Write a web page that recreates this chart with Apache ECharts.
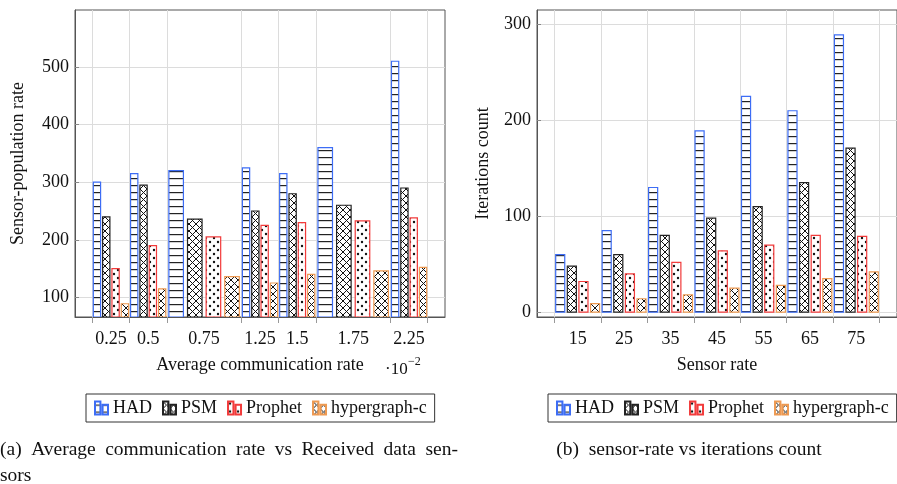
<!DOCTYPE html>
<html>
<head>
<meta charset="utf-8">
<title>Bar charts</title>
<script src="https://cdn.jsdelivr.net/npm/echarts@6/dist/echarts.min.js"></script>
<style>
  html, body { margin: 0; padding: 0; background: #fff; }
  #chart { width: 897px; height: 484px; }
</style>
</head>
<body>
<div id="chart"></div>
<script>
// datos
const seriesNames = ['HAD', 'PSM', 'Prophet', 'hypergraph-c'];

// (a) tasa media de comunicacion (x 10^-2)
const commRates = ['0.25', '0.5', '0.75', '1.25', '1.5', '1.75', '2.25'];
const hadPop     = [300, 315, 320, 325, 315, 360, 510];
const psmPop     = [240, 295, 236, 250, 280, 260, 290];
const prophetPop = [150, 190, 205, 225, 230, 233, 238];
const hyperPop   = [89, 115, 136, 125, 140, 146, 152];
const popTicks   = [100, 200, 300, 400, 500];

// (b) sensor rate vs iteraciones
const sensorRates = ['15', '25', '35', '45', '55', '65', '75'];
const hadIter     = [60, 85, 130, 189, 225, 210, 289];
const psmIter     = [48, 60, 80, 98, 110, 135, 171];
const prophetIter = [32, 40, 52, 64, 70, 80, 79];
const hyperIter   = [9, 14, 18, 25, 28, 35, 42];
const iterTicks   = [0, 100, 200, 300];

// ancho de cada grupo en la escala x (los grupos 0.75 y 1.75 ocupan doble)
const spansA = [1, 1, 2, 1, 1, 2, 1];
const spansB = [1, 1, 1, 1, 1, 1, 1];

const FONT = '"Liberation Serif", "Times New Roman", serif';
const BAR_RATIO = 0.78;

// Patrones de relleno estilo pgfplots
const crearPatron = (tipo) => {
    const c = document.createElement('canvas');
    const ctx = c.getContext('2d');
    if (tipo === 'hlines') {
        c.width = 4; c.height = 7;
        ctx.fillStyle = '#fff'; ctx.fillRect(0, 0, 4, 7);
        ctx.fillStyle = '#222'; ctx.fillRect(0, 3, 4, 1.2);
    } else if (tipo === 'cross') {
        c.width = 7; c.height = 7;
        ctx.fillStyle = '#fff'; ctx.fillRect(0, 0, 7, 7);
        ctx.strokeStyle = '#111'; ctx.lineWidth = 1;
        ctx.beginPath();
        ctx.moveTo(0, 0); ctx.lineTo(7, 7);
        ctx.moveTo(7, 0); ctx.lineTo(0, 7);
        ctx.stroke();
    } else {
        c.width = 8; c.height = 8;
        ctx.fillStyle = '#fff'; ctx.fillRect(0, 0, 8, 8);
        ctx.fillStyle = '#111';
        ctx.beginPath(); ctx.arc(2, 2, 1.2, 0, Math.PI * 2); ctx.fill();
        ctx.beginPath(); ctx.arc(6, 6, 1.2, 0, Math.PI * 2); ctx.fill();
    }
    return { image: c, repeat: 'repeat' };
};

const estilos = [
    { fill: crearPatron('hlines'), stroke: '#3d6df5' },
    { fill: crearPatron('cross'), stroke: '#222' },
    { fill: crearPatron('dots'), stroke: '#f23b3b' },
    { fill: crearPatron('cross'), stroke: '#ee9a52' }
];

const inicios = (spans) => spans.reduce((acc, s, i) => { acc.push(i ? acc[i - 1] + spans[i - 1] : 0); return acc; }, []);
const centros = (spans) => inicios(spans).map((s, i) => s + spans[i] / 2);

// Serie custom: cada barra ocupa un cuarto de su grupo
const serieBarras = (nombre, valores, k, spans, base, gridIdx) => {
    const starts = inicios(spans);
    const est = estilos[k];
    return {
        type: 'custom',
        name: nombre,
        xAxisIndex: gridIdx,
        yAxisIndex: gridIdx,
        clip: true,
        itemStyle: { color: est.fill, borderColor: est.stroke, borderWidth: 1.2 },
        data: valores.map((v, i) => [starts[i] + spans[i] / 2, v]),
        renderItem: (params, api) => {
            const i = params.dataIndex;
            const w = spans[i];
            const x0 = starts[i] + w * (k + (1 - BAR_RATIO) / 2) / 4;
            const x1 = x0 + w * BAR_RATIO / 4;
            const p0 = api.coord([x0, api.value(1)]);
            const p1 = api.coord([x1, base]);
            return {
                type: 'rect',
                shape: { x: p0[0], y: p0[1], width: p1[0] - p0[0], height: p1[1] - p0[1] },
                style: { fill: est.fill, stroke: est.stroke, lineWidth: 1.2 }
            };
        }
    };
};

const ejeX = (gridIdx, spans, etiquetas, min, max, nombre) => {
    const c = centros(spans);
    const bordes = inicios(spans).concat([spans.reduce((a, b) => a + b, 0)]);
    return {
        type: 'value', gridIndex: gridIdx, min: min, max: max,
        name: nombre, nameLocation: 'middle', nameGap: 39,
        nameTextStyle: { fontFamily: FONT, fontSize: 18, color: '#111' },
        axisLine: { show: true, onZero: false, lineStyle: { color: '#555' } },
        axisTick: { show: true, length: 6, customValues: bordes, lineStyle: { color: '#999' } },
        splitLine: { show: true, lineStyle: { color: '#dcdcdc' } },
        axisLabel: {
            customValues: c, margin: 13,
            fontFamily: FONT, fontSize: 18, color: '#111',
            formatter: (v) => etiquetas[c.findIndex(x => Math.abs(x - v) < 1e-6)]
        }
    };
};

const ejeY = (gridIdx, ticks, min, max, nombre, gap) => ({
    type: 'value', gridIndex: gridIdx, min: min, max: max,
    name: nombre, nameLocation: 'middle', nameGap: gap,
    nameTextStyle: { fontFamily: FONT, fontSize: 18, color: '#111' },
    axisLine: { show: true, onZero: false, lineStyle: { color: '#555' } },
    axisTick: { show: true, inside: true, length: 4, customValues: ticks, lineStyle: { color: '#888' } },
    splitLine: { show: true, lineStyle: { color: '#dcdcdc' } },
    axisLabel: { customValues: ticks, margin: 6, fontFamily: FONT, fontSize: 18, color: '#111' }
});

// Pie de figura (a) justificado a dos lineas
const CAP_FONT = '19.5px ' + FONT;
const captionA1 = '(a)  Average communication rate vs Received data sen-'.split(/ +/);
const medir = (() => {
    const ctx = document.createElement('canvas').getContext('2d');
    ctx.font = CAP_FONT;
    return (t) => ctx.measureText(t).width;
})();
const justificar = (palabras, x0, x1, y) => {
    const anchos = palabras.map(medir);
    const hueco = (x1 - x0 - anchos.reduce((a, b) => a + b, 0)) / (palabras.length - 1);
    let x = x0;
    return palabras.map((p, i) => {
        const el = { type: 'text', x: x, y: y, style: { text: p, font: CAP_FONT, fill: '#111', textVerticalAlign: 'middle' } };
        x += anchos[i] + hueco;
        return el;
    });
};

const legendBase = {
    data: seriesNames,
    selectedMode: false,
    top: 394,
    padding: [5, 8, 5, 8],
    itemGap: 10,
    itemWidth: 13,
    itemHeight: 13,
    borderColor: '#333',
    borderWidth: 1,
    borderRadius: 0,
    icon: 'path://M0,0H5V12H0Z M7,3H12V12H7Z',
    textStyle: { fontFamily: FONT, fontSize: 18, color: '#111' }
};

const iniciarGrafico = () => {
    const chart = echarts.init(document.getElementById('chart'), null, { renderer: 'canvas' });
    const option = {
        animation: false,
        backgroundColor: '#fff',
        grid: [
            { left: 75, top: 10, width: 370, height: 307, show: true, borderColor: '#555', borderWidth: 1 },
            { left: 537, top: 10, width: 371, height: 307, show: true, borderColor: '#555', borderWidth: 1 }
        ],
        xAxis: [
            ejeX(0, spansA, commRates, -0.464, 9.464, 'Average communication rate'),
            ejeX(1, spansB, sensorRates, -0.375, 7.375, 'Sensor rate')
        ],
        yAxis: [
            ejeY(0, popTicks, 66, 599, 'Sensor-population rate', 48),
            ejeY(1, iterTicks, -5, 315, 'Iterations count', 45)
        ],
        legend: [
            Object.assign({}, legendBase, { left: 86 }),
            Object.assign({}, legendBase, { left: 548 })
        ],
        series: [
            serieBarras('HAD', hadPop, 0, spansA, 66, 0),
            serieBarras('PSM', psmPop, 1, spansA, 66, 0),
            serieBarras('Prophet', prophetPop, 2, spansA, 66, 0),
            serieBarras('hypergraph-c', hyperPop, 3, spansA, 66, 0),
            serieBarras('HAD', hadIter, 0, spansB, 0, 1),
            serieBarras('PSM', psmIter, 1, spansB, 0, 1),
            serieBarras('Prophet', prophetIter, 2, spansB, 0, 1),
            serieBarras('hypergraph-c', hyperIter, 3, spansB, 0, 1)
        ],
        graphic: [
            { type: 'text', x: 385, y: 370, style: { text: '·10', font: '17px ' + FONT, fill: '#111', textVerticalAlign: 'middle' } },
            { type: 'text', x: 408, y: 362, style: { text: '−2', font: '12px ' + FONT, fill: '#111', textVerticalAlign: 'middle' } },
            ...justificar(captionA1, 0, 458, 450),
            { type: 'text', x: 0, y: 476, style: { text: 'sors', font: CAP_FONT, fill: '#111', textVerticalAlign: 'middle' } },
            { type: 'text', x: 689, y: 450, style: { text: '(b)  sensor-rate vs iterations count', font: CAP_FONT, fill: '#111', textAlign: 'center', textVerticalAlign: 'middle' } }
        ]
    };
    chart.setOption(option);
};

window.addEventListener('load', iniciarGrafico);
</script>
</body>
</html>
